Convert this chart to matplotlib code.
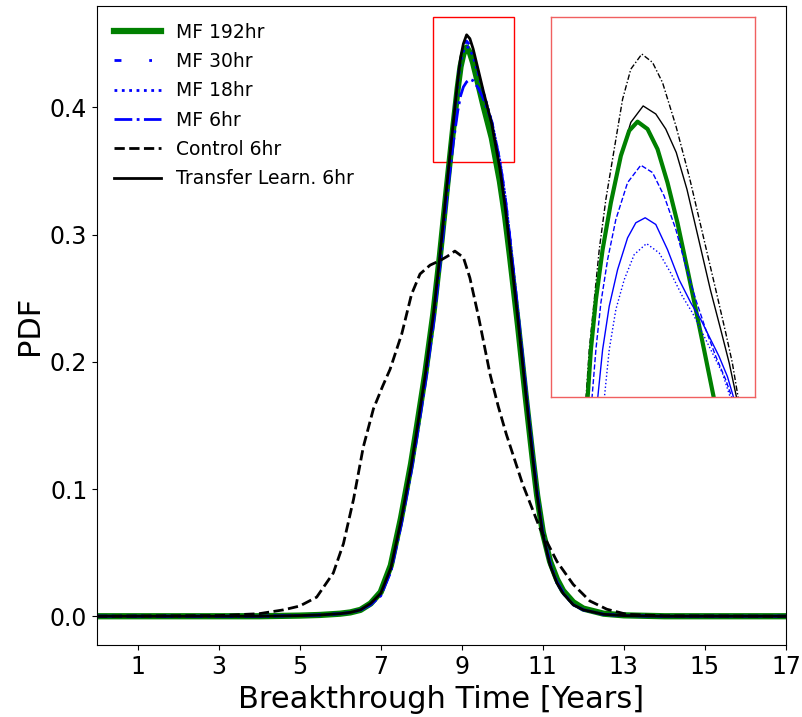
import numpy as np
import matplotlib
matplotlib.use("Agg")
import matplotlib.pyplot as plt
from matplotlib.patches import Rectangle

# breakthrough time grid (years) for the multi-fidelity / transfer curves
t_main = [0, 4, 5, 5.5, 6, 6.25, 6.5, 6.75, 7.0, 7.25, 7.5, 7.75, 7.9, 8.1, 8.3, 8.46,
          8.63, 8.79, 8.9, 8.97, 9.04, 9.12, 9.2, 9.28, 9.41, 9.53, 9.74, 9.94, 10.07,
          10.19, 10.39, 10.58, 10.75, 10.86, 11.0, 11.18, 11.35, 11.5, 11.75, 12.0,
          12.5, 13, 14, 17]

pdf_mf192 = [0, 0, 0.0005, 0.001, 0.002, 0.003, 0.005, 0.010, 0.019, 0.040, 0.077, 0.120,
             0.150, 0.191, 0.238, 0.283, 0.336, 0.384, 0.415, 0.432, 0.442, 0.447, 0.443,
             0.435, 0.418, 0.402, 0.376, 0.342, 0.314, 0.283, 0.228, 0.172, 0.124, 0.095,
             0.066, 0.043, 0.029, 0.020, 0.011, 0.006, 0.002, 0.0007, 0, 0]
pdf_mf30 = [0, 0, 0.0005, 0.001, 0.002, 0.003, 0.005, 0.009, 0.017, 0.036, 0.072, 0.115,
            0.145, 0.187, 0.234, 0.281, 0.337, 0.388, 0.422, 0.440, 0.448, 0.452, 0.449,
            0.442, 0.427, 0.412, 0.388, 0.356, 0.328, 0.295, 0.236, 0.178, 0.127, 0.096,
            0.064, 0.040, 0.026, 0.018, 0.009, 0.005, 0.0015, 0.0005, 0, 0]
pdf_mf18 = [0, 0, 0.0005, 0.001, 0.002, 0.003, 0.005, 0.009, 0.017, 0.036, 0.073, 0.116,
            0.146, 0.188, 0.235, 0.282, 0.337, 0.386, 0.418, 0.436, 0.444, 0.448, 0.446,
            0.440, 0.426, 0.412, 0.389, 0.358, 0.330, 0.297, 0.238, 0.180, 0.128, 0.097,
            0.065, 0.041, 0.026, 0.018, 0.009, 0.005, 0.0015, 0.0005, 0, 0]
pdf_mf6 = [0, 0, 0.0005, 0.001, 0.002, 0.003, 0.005, 0.009, 0.016, 0.035, 0.071, 0.113,
           0.142, 0.183, 0.229, 0.275, 0.328, 0.372, 0.397, 0.409, 0.416, 0.420, 0.422,
           0.421, 0.415, 0.407, 0.389, 0.358, 0.330, 0.297, 0.238, 0.180, 0.129, 0.098,
           0.066, 0.042, 0.027, 0.019, 0.009, 0.005, 0.0015, 0.0005, 0, 0]
pdf_tl6 = [0, 0, 0.0005, 0.001, 0.002, 0.003, 0.005, 0.010, 0.018, 0.038, 0.075, 0.118,
           0.148, 0.190, 0.237, 0.283, 0.338, 0.388, 0.421, 0.439, 0.450, 0.457, 0.454,
           0.446, 0.429, 0.413, 0.387, 0.352, 0.322, 0.289, 0.232, 0.175, 0.125, 0.095,
           0.064, 0.040, 0.026, 0.018, 0.009, 0.005, 0.0015, 0.0005, 0, 0]

# control run is much broader
t_ctrl = [0, 3, 4, 4.6, 5.0, 5.42, 5.83, 6.08, 6.33, 6.57, 6.82, 7.05, 7.23, 7.52, 7.76,
          7.97, 8.22, 8.46, 8.65, 8.83, 9.04, 9.2, 9.41, 9.7, 9.9, 10.1, 10.5, 10.93,
          11.35, 11.75, 12.16, 12.58, 13.07, 14, 17]
pdf_ctrl6 = [0, 0.0005, 0.002, 0.005, 0.008, 0.015, 0.034, 0.057, 0.092, 0.133, 0.163,
             0.181, 0.194, 0.222, 0.253, 0.269, 0.276, 0.2795, 0.283, 0.287, 0.282, 0.266,
             0.236, 0.190, 0.165, 0.143, 0.104, 0.069, 0.043, 0.025, 0.012, 0.0055, 0.0015,
             0.0003, 0]

# zoomed-in detail shown in the inset
inset_x_dashdot = [8.643, 8.676, 8.725, 8.774, 8.839, 8.921, 9.003, 9.084, 9.192, 9.297,
                   9.395, 9.526, 9.656, 9.787, 9.918, 10.016, 10.081, 10.140]
inset_y_dashdot = [0.357, 0.3717, 0.3866, 0.4016, 0.4166, 0.4316, 0.4465, 0.4555, 0.4600,
                   0.4575, 0.4515, 0.4386, 0.4236, 0.4066, 0.3896, 0.3767, 0.3677, 0.357]
inset_x_black = [8.650, 8.692, 8.741, 8.807, 8.888, 8.986, 9.084, 9.205, 9.329, 9.427,
                 9.530, 9.635, 9.735, 9.865, 9.975, 10.050, 10.125]
inset_y_black = [0.357, 0.3717, 0.3866, 0.4016, 0.4156, 0.4296, 0.4396, 0.4445, 0.4421,
                 0.4376, 0.4306, 0.4196, 0.4066, 0.3896, 0.3767, 0.3677, 0.357]
inset_x_green = [8.659, 8.692, 8.741, 8.807, 8.888, 8.986, 9.068, 9.150, 9.248, 9.346,
                 9.444, 9.542, 9.640, 9.722, 9.803, 9.901]
inset_y_green = [0.357, 0.3717, 0.3866, 0.4016, 0.4156, 0.4296, 0.4371, 0.4398, 0.4376,
                 0.4316, 0.4216, 0.4096, 0.3956, 0.3837, 0.3717, 0.357]
inset_x_bdash = [8.702, 8.741, 8.790, 8.856, 8.937, 9.052, 9.182, 9.297, 9.411, 9.526,
                 9.624, 9.722, 9.820, 9.918, 10.016, 10.081]
inset_y_bdash = [0.357, 0.3717, 0.3857, 0.3986, 0.4106, 0.4216, 0.4268, 0.4246, 0.4176,
                 0.4076, 0.3966, 0.3866, 0.3777, 0.3697, 0.3627, 0.357]
inset_x_bsolid = [8.758, 8.807, 8.872, 8.954, 9.052, 9.133, 9.225, 9.329, 9.444, 9.558,
                  9.673, 9.771, 9.852, 9.950, 10.032, 10.097]
inset_y_bsolid = [0.357, 0.3717, 0.3847, 0.3956, 0.4051, 0.4096, 0.4111, 0.4091, 0.4016,
                  0.3926, 0.3857, 0.3807, 0.3757, 0.3697, 0.3637, 0.357]
inset_x_bdot = [8.823, 8.872, 8.937, 9.019, 9.117, 9.238, 9.362, 9.476, 9.591, 9.689,
                9.787, 9.885, 9.983, 10.065]
inset_y_bdot = [0.357, 0.3717, 0.3837, 0.3926, 0.4001, 0.4034, 0.4006, 0.3946, 0.3876,
                0.3827, 0.3767, 0.3707, 0.3647, 0.357]

xticks = [1, 3, 5, 7, 9, 11, 13, 15, 17]
zoom_box = (8.3, 10.3, 0.357, 0.471)


fig = plt.figure(figsize=(8.02, 7.17), dpi=100)
ax = fig.add_axes([0.121, 0.1, 0.859, 0.892])

ax.plot(t_main, pdf_mf192, color="green", lw=4.5, label="MF 192hr")
ax.plot(t_main, pdf_mf30, color="blue", lw=2, linestyle=(0, (2.5, 10, 1, 10)), label="MF 30hr")
ax.plot(t_main, pdf_mf18, color="blue", lw=2, linestyle=":", label="MF 18hr")
ax.plot(t_main, pdf_mf6, color="blue", lw=2, linestyle="-.", label="MF 6hr")
ax.plot(t_ctrl, pdf_ctrl6, color="black", lw=2, linestyle="--", label="Control 6hr")
ax.plot(t_main, pdf_tl6, color="black", lw=2, label="Transfer Learn. 6hr")

ax.set_xlim(0, 17)
ax.set_xticks(xticks)
ax.set_yticks([0.0, 0.1, 0.2, 0.3, 0.4])
ax.tick_params(labelsize=17)
ax.set_xlabel("Breakthrough Time [Years]", fontsize=22)
ax.set_ylabel("PDF", fontsize=22)
ax.legend(loc="upper left", frameon=False, fontsize=13.5, handlelength=2.5,
          labelspacing=0.55, bbox_to_anchor=(0.0, 1.0))

x0, x1, y0, y1 = zoom_box
ax.add_patch(Rectangle((x0, y0), x1 - x0, y1 - y0, fill=False, edgecolor="red", lw=1))

# inset
axin = fig.add_axes([0.687, 0.446, 0.254, 0.530])
axin.plot(inset_x_dashdot, inset_y_dashdot, color="black", lw=1, linestyle=(0, (4, 1.5, 1, 1.5)))
axin.plot(inset_x_black, inset_y_black, color="black", lw=1)
axin.plot(inset_x_green, inset_y_green, color="green", lw=3)
axin.plot(inset_x_bdash, inset_y_bdash, color="blue", lw=1, linestyle="--")
axin.plot(inset_x_bsolid, inset_y_bsolid, color="blue", lw=1)
axin.plot(inset_x_bdot, inset_y_bdot, color="blue", lw=1, linestyle=":")
axin.set_xlim(x0, x1)
axin.set_ylim(y0 + 0.0005, y1)
axin.set_xticks([])
axin.set_yticks([])
for s in axin.spines.values():
    s.set_edgecolor("#f06060")
    s.set_linewidth(1)

fig.savefig("out.png", dpi=100)
